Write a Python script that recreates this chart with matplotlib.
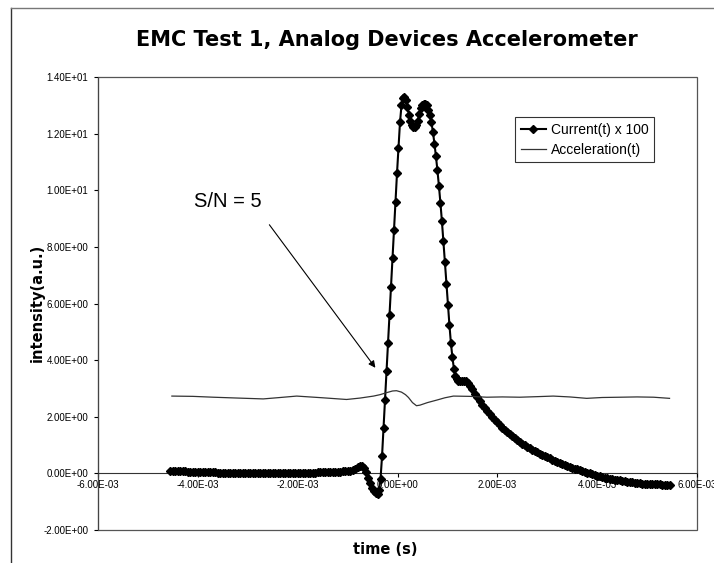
import numpy as np
import matplotlib.pyplot as plt
from matplotlib.lines import Line2D
from matplotlib.patches import Rectangle

plt.rcParams['font.family'] = ['Liberation Sans', 'DejaVu Sans']

# Current(t) x 100 -- time in ms
# flat baseline before the pulse
flat_t = [-4.55, -4.50, -4.45, -4.40, -4.35, -4.30, -4.25, -4.20, -4.15, -4.10,
          -4.05, -4.00, -3.95, -3.90, -3.85, -3.80, -3.75, -3.70, -3.65, -3.60,
          -3.55, -3.50, -3.45, -3.40, -3.35, -3.30, -3.25, -3.20, -3.15, -3.10,
          -3.05, -3.00, -2.95, -2.90, -2.85, -2.80, -2.75, -2.70, -2.65, -2.60,
          -2.55, -2.50, -2.45, -2.40, -2.35, -2.30, -2.25, -2.20, -2.15, -2.10,
          -2.05, -2.00, -1.95, -1.90, -1.85, -1.80, -1.75, -1.70, -1.65, -1.60,
          -1.55, -1.50, -1.45, -1.40, -1.35, -1.30, -1.25, -1.20, -1.15, -1.10,
          -1.05, -1.00, -0.95]
flat_v = [0.07, 0.08, 0.08, 0.08, 0.08, 0.07, 0.07, 0.06, 0.06, 0.06,
          0.06, 0.05, 0.05, 0.05, 0.05, 0.04, 0.04, 0.04, 0.04, 0.03,
          0.03, 0.03, 0.03, 0.02, 0.02, 0.02, 0.02, 0.02, 0.02, 0.01,
          0.01, 0.01, 0.01, 0.01, 0.01, 0.00, 0.00, 0.00, 0.00, 0.00,
          0.00, 0.00, 0.00, 0.00, 0.00, 0.01, 0.01, 0.01, 0.01, 0.01,
          0.01, 0.02, 0.02, 0.02, 0.02, 0.03, 0.03, 0.03, 0.03, 0.04,
          0.04, 0.04, 0.04, 0.05, 0.05, 0.05, 0.05, 0.06, 0.06, 0.07,
          0.07, 0.08, 0.09]

# small bump and dip just before the rise
bump_t = [-0.90, -0.85, -0.80, -0.76, -0.72, -0.68, -0.64, -0.60, -0.56, -0.52,
          -0.48, -0.44, -0.40, -0.37]
bump_v = [0.12, 0.17, 0.22, 0.25, 0.25, 0.18, 0.05, -0.15, -0.35, -0.52,
          -0.63, -0.70, -0.72, -0.60]

# main double-peaked pulse and shoulder
pulse_t = [-0.34, -0.31, -0.28, -0.25, -0.22, -0.19, -0.16, -0.13, -0.10, -0.07,
           -0.04, -0.01, 0.02, 0.05, 0.08, 0.11, 0.14, 0.17, 0.20, 0.23,
           0.26, 0.29, 0.32, 0.35, 0.38, 0.41, 0.44, 0.47, 0.50, 0.53,
           0.56, 0.59, 0.62, 0.65, 0.68, 0.71, 0.74, 0.77, 0.80, 0.83,
           0.86, 0.89, 0.92, 0.95, 0.98, 1.01, 1.04, 1.07, 1.10, 1.13,
           1.16, 1.19, 1.22, 1.26, 1.30, 1.34, 1.38, 1.42, 1.46, 1.50,
           1.55, 1.60, 1.65, 1.70, 1.75, 1.80, 1.85, 1.90, 1.95]
pulse_v = [-0.20, 0.60, 1.60, 2.60, 3.60, 4.60, 5.60, 6.60, 7.60, 8.60,
           9.60, 10.60, 11.50, 12.40, 13.00, 13.25, 13.30, 13.20, 12.95, 12.65,
           12.45, 12.30, 12.25, 12.25, 12.30, 12.45, 12.70, 12.90, 13.00, 13.05,
           13.05, 13.00, 12.85, 12.65, 12.40, 12.05, 11.65, 11.20, 10.70, 10.15,
           9.55, 8.90, 8.20, 7.45, 6.70, 5.95, 5.25, 4.60, 4.10, 3.70,
           3.45, 3.32, 3.28, 3.26, 3.27, 3.28, 3.26, 3.20, 3.10, 2.98,
           2.82, 2.68, 2.56, 2.43, 2.31, 2.20, 2.09, 1.99, 1.89]

# slow decay tail
tail_t = [2.00, 2.05, 2.10, 2.15, 2.20, 2.25, 2.30, 2.35, 2.40, 2.45,
          2.50, 2.55, 2.60, 2.65, 2.70, 2.75, 2.80, 2.85, 2.90, 2.95,
          3.00, 3.05, 3.10, 3.15, 3.20, 3.25, 3.30, 3.35, 3.40, 3.45,
          3.50, 3.55, 3.60, 3.65, 3.70, 3.75, 3.80, 3.85, 3.90, 3.95,
          4.00, 4.05, 4.10, 4.15, 4.20, 4.25, 4.30, 4.35, 4.40, 4.45,
          4.50, 4.55, 4.60, 4.65, 4.70, 4.75, 4.80, 4.85, 4.90, 4.95,
          5.00, 5.05, 5.10, 5.15, 5.20, 5.25, 5.30, 5.35, 5.40, 5.45]
tail_v = [1.80, 1.71, 1.62, 1.54, 1.46, 1.38, 1.31, 1.24, 1.18, 1.11,
          1.05, 0.99, 0.94, 0.89, 0.84, 0.79, 0.74, 0.69, 0.65, 0.61,
          0.57, 0.53, 0.49, 0.45, 0.41, 0.37, 0.34, 0.30, 0.27, 0.23,
          0.20, 0.17, 0.14, 0.11, 0.08, 0.05, 0.02, 0.00, -0.03, -0.05,
          -0.08, -0.10, -0.13, -0.15, -0.17, -0.19, -0.21, -0.22, -0.24, -0.25,
          -0.27, -0.28, -0.30, -0.31, -0.32, -0.33, -0.34, -0.35, -0.36, -0.36,
          -0.37, -0.37, -0.38, -0.38, -0.39, -0.39, -0.40, -0.40, -0.41, -0.42]

# Acceleration(t) -- time in ms
accel_t = [-4.52, -4.10, -3.69, -3.20, -2.69, -2.35, -2.02, -1.50, -1.02, -0.75,
           -0.48, -0.35, -0.22, -0.10, -0.02, 0.08, 0.16, 0.22, 0.30, 0.38,
           0.45, 0.60, 0.79, 0.95, 1.12, 1.45, 1.79, 2.10, 2.45, 2.80,
           3.12, 3.45, 3.79, 4.10, 4.46, 4.80, 5.13, 5.45]
accel_v = [2.73, 2.72, 2.69, 2.66, 2.63, 2.68, 2.73, 2.67, 2.61, 2.66,
           2.73, 2.78, 2.85, 2.91, 2.92, 2.87, 2.78, 2.68, 2.50, 2.39,
           2.41, 2.50, 2.59, 2.67, 2.73, 2.72, 2.69, 2.70, 2.69, 2.71,
           2.73, 2.70, 2.65, 2.68, 2.69, 2.70, 2.69, 2.65]

x_ticks = [-6e-3, -4e-3, -2e-3, 0.0, 2e-3, 4e-3, 6e-3]
y_ticks = [-2, 0, 2, 4, 6, 8, 10, 12, 14]

W, H = 714, 563
fig = plt.figure(figsize=(W / 100, H / 100), dpi=100)
ax = fig.add_axes([98 / W, 1 - 530 / H, (697 - 98) / W, (530 - 77) / H])

ct = np.array(flat_t + bump_t + pulse_t + tail_t) * 1e-3
cv = flat_v + bump_v + pulse_v + tail_v
at = np.array(accel_t) * 1e-3
ax.plot(ct, cv, color='black', lw=1.5, marker='D', ms=4.5, zorder=3,
        label='Current(t) x 100')
ax.plot(at, accel_v, color='#333333', lw=0.9, zorder=3, label='Acceleration(t)')

ax.set_xlim(-6e-3, 6e-3)
ax.set_ylim(-2, 14)
ax.set_xticks(x_ticks)
ax.set_yticks(y_ticks)
ax.set_xticklabels(['{:.2E}'.format(v) for v in x_ticks])
ax.set_yticklabels(['{:.2E}'.format(v) for v in y_ticks])

# Excel style: horizontal axis crosses at y = 0
ax.spines['bottom'].set_position(('data', 0))
ax.spines['top'].set_visible(False)
ax.spines['right'].set_visible(False)
ax.spines['bottom'].set_color('#333333')
ax.spines['left'].set_color('#444444')
ax.spines['bottom'].set_linewidth(0.8)
ax.spines['left'].set_linewidth(0.8)
ax.add_patch(Rectangle((0, 0), 1, 1, transform=ax.transAxes, fill=False,
                       edgecolor='#555555', lw=0.9, zorder=1, clip_on=False))
ax.tick_params(axis='both', direction='out', length=3, width=0.8, labelsize=7)
ax.tick_params(axis='x', pad=2)
ax.tick_params(axis='y', pad=4)

ax.text(-3.4e-3, 9.6, 'S/N = 5', fontsize=14.5, ha='center', va='center')
ax.annotate('', xy=(-0.41e-3, 3.65), xytext=(-2.6e-3, 8.86),
            arrowprops=dict(arrowstyle='-|>', color='black', lw=0.8,
                            mutation_scale=10))

leg = ax.legend(loc='upper left', bbox_to_anchor=((515 - 98) / 599, 1 - (117 - 77) / 453),
                fontsize=10, frameon=True, fancybox=False, borderaxespad=0,
                handlelength=1.8, handletextpad=0.4, borderpad=0.4, labelspacing=0.45)
leg.get_frame().set_edgecolor('black')
leg.get_frame().set_linewidth(0.8)

fig.text(387 / W, 1 - 40 / H, 'EMC Test 1, Analog Devices Accelerometer',
         fontsize=15, fontweight='bold', family='DejaVu Sans',
         ha='center', va='center')
fig.text(37 / W, 1 - 303 / H, 'intensity(a.u.)', fontsize=10.5, fontweight='bold',
         family='DejaVu Sans', rotation=90, ha='center', va='center')
fig.text(385 / W, 1 - 549 / H, 'time (s)', fontsize=10.5, fontweight='bold',
         family='DejaVu Sans', ha='center', va='center')

# outer chart border
fig.add_artist(Line2D([11 / W, 11 / W], [0, 1 - 8 / H], color='#333333', lw=1.0))
fig.add_artist(Line2D([11 / W, 1], [1 - 8 / H, 1 - 8 / H], color='#777777', lw=1.0))

fig.savefig('out.png', dpi=100)
